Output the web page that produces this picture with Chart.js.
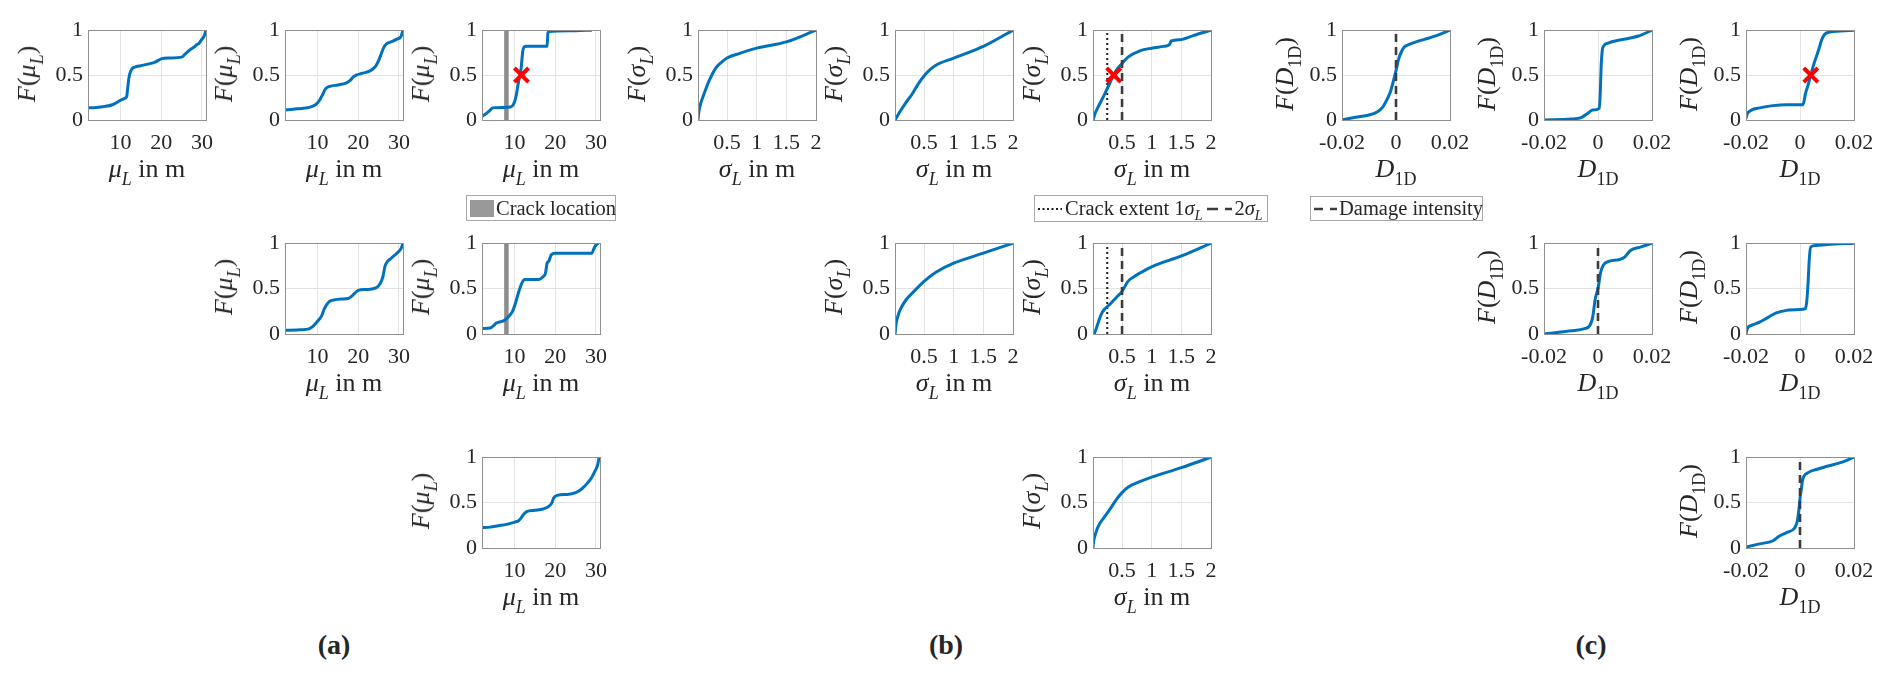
<!DOCTYPE html>
<html>
<head>
<meta charset="utf-8">
<script src="https://cdn.jsdelivr.net/npm/chart.js@4.4.1/dist/chart.umd.min.js"></script>
<style>
  html, body { margin: 0; padding: 0; background: #fff; }
  #stage { position: relative; width: 1892px; height: 676px; overflow: hidden; font-family: "Liberation Serif", serif; color: #262626; }
  #stage canvas { position: absolute; }
  .xt, .yt { position: absolute; font-size: 26px; line-height: 26px; white-space: nowrap; }
  .xt { transform: translateX(-50%); }
  .yt { transform: translate(-50%, -50%) rotate(-90deg); }
  .xt sub, .yt sub { font-size: 18px; vertical-align: -8px; line-height: 0; }
  .leg { position: absolute; box-sizing: border-box; border: 1px solid #a8a8a8; background: #fff;
         font-size: 20.5px; display: flex; align-items: center; white-space: nowrap; }
  .leg sub { font-size: 14px; vertical-align: -5px; line-height: 0; }
  .panel { position: absolute; font-weight: bold; font-size: 28px; transform: translate(-50%, -50%); }
</style>
</head>
<body>
<div id="stage"></div>
<script>
// ---- data ----
// (a) F(mu_L)
const a1X = [2, 4, 6, 8, 10, 11, 11.5, 11.7, 12, 12.3, 12.8, 13.5, 15, 17, 18.5, 20, 22, 25, 25.8, 27, 28, 28.8, 29.2, 30, 30.5, 31];
const a1Y = [0.135, 0.14, 0.15, 0.17, 0.22, 0.24, 0.26, 0.33, 0.45, 0.52, 0.57, 0.59, 0.605, 0.625, 0.645, 0.68, 0.69, 0.70, 0.73, 0.78, 0.81, 0.84, 0.85, 0.90, 0.93, 1.0];
const a2X = [2, 5, 8, 9.5, 10.5, 11.2, 12, 13, 15, 17, 18, 18.8, 19.5, 21, 23, 24.3, 25, 25.6, 26.2, 27, 28, 29.5, 30.5, 31];
const a2Y = [0.11, 0.125, 0.14, 0.17, 0.22, 0.28, 0.35, 0.375, 0.39, 0.41, 0.44, 0.48, 0.50, 0.52, 0.55, 0.60, 0.66, 0.73, 0.80, 0.85, 0.87, 0.90, 0.93, 1.0];
const a3X = [2, 3, 4, 4.6, 7, 9, 9.8, 10.4, 10.8, 11.2, 11.6, 12, 12.3, 13, 18, 18.2, 18.5, 25, 29];
const a3Y = [0.04, 0.07, 0.11, 0.135, 0.14, 0.145, 0.18, 0.27, 0.38, 0.48, 0.57, 0.76, 0.81, 0.82, 0.82, 0.97, 0.985, 0.995, 1.0];
const a4X = [2, 5, 7, 8, 9, 10, 11, 11.6, 12.2, 13, 14, 16, 17.5, 18.5, 20, 22, 24.5, 25.3, 26, 26.6, 27.2, 28, 29, 30, 30.5, 31];
const a4Y = [0.04, 0.045, 0.05, 0.06, 0.09, 0.14, 0.2, 0.27, 0.32, 0.36, 0.375, 0.385, 0.39, 0.42, 0.48, 0.49, 0.51, 0.55, 0.62, 0.75, 0.80, 0.83, 0.87, 0.91, 0.94, 1.0];
const a5X = [2, 4, 4.8, 5.5, 6.5, 7.5, 8.5, 9.5, 10.3, 11, 11.8, 12.5, 16, 17, 17.6, 18, 18.4, 19, 20, 29, 29.5, 30, 30.6];
const a5Y = [0.06, 0.065, 0.09, 0.12, 0.135, 0.15, 0.19, 0.25, 0.35, 0.46, 0.56, 0.60, 0.60, 0.63, 0.67, 0.78, 0.80, 0.87, 0.89, 0.89, 0.94, 0.98, 1.0];
const a6X = [2, 4, 6, 8, 10, 11, 11.6, 12.2, 13, 15, 17, 18.5, 19.2, 19.6, 20.5, 23, 25, 26.5, 28, 29, 29.8, 30.4, 30.8];
const a6Y = [0.225, 0.23, 0.245, 0.26, 0.285, 0.30, 0.33, 0.37, 0.40, 0.415, 0.43, 0.46, 0.50, 0.55, 0.58, 0.59, 0.61, 0.65, 0.72, 0.78, 0.85, 0.91, 1.0];

// (b) F(sigma_L)
const b1X = [0.01, 0.02, 0.05, 0.1, 0.15, 0.2, 0.3, 0.4, 0.5, 0.7, 1.0, 1.5, 2.0];
const b1Y = [0, 0.07, 0.17, 0.27, 0.36, 0.44, 0.57, 0.64, 0.69, 0.74, 0.80, 0.87, 1.0];
const b2X = [0.01, 0.1, 0.2, 0.3, 0.4, 0.5, 0.6, 0.7, 1.0, 1.5, 2.0];
const b2Y = [0, 0.1, 0.2, 0.29, 0.4, 0.49, 0.56, 0.61, 0.69, 0.82, 1.0];
const b3X = [0.01, 0.05, 0.1, 0.2, 0.3, 0.4, 0.5, 0.6, 0.8, 1.0, 1.2, 1.3, 1.33, 1.5, 1.7, 2.0];
const b3Y = [0, 0.08, 0.15, 0.28, 0.42, 0.55, 0.63, 0.70, 0.77, 0.80, 0.82, 0.84, 0.88, 0.895, 0.94, 1.0];
const b4X = [0.01, 0.03, 0.06, 0.1, 0.2, 0.3, 0.5, 0.7, 1.0, 1.5, 2.0];
const b4Y = [0, 0.12, 0.2, 0.27, 0.38, 0.45, 0.58, 0.68, 0.78, 0.89, 1.0];
const b5X = [0.03, 0.06, 0.1, 0.15, 0.2, 0.3, 0.4, 0.5, 0.6, 0.7, 0.8, 1.0, 1.5, 2.0];
const b5Y = [0, 0.05, 0.13, 0.22, 0.27, 0.33, 0.40, 0.47, 0.58, 0.63, 0.67, 0.74, 0.86, 1.0];
const b6X = [0.01, 0.02, 0.05, 0.1, 0.2, 0.3, 0.4, 0.5, 0.6, 0.8, 1.0, 1.5, 2.0];
const b6Y = [0, 0.07, 0.15, 0.24, 0.34, 0.43, 0.53, 0.61, 0.67, 0.73, 0.78, 0.885, 1.0];

// (c) F(D_1D)
const c1X = [-0.02, -0.015, -0.01, -0.007, -0.005, -0.003, -0.002, -0.001, 0, 0.001, 0.002, 0.003, 0.004, 0.008, 0.012, 0.016, 0.02];
const c1Y = [0, 0.03, 0.055, 0.09, 0.14, 0.25, 0.32, 0.43, 0.55, 0.68, 0.76, 0.81, 0.83, 0.875, 0.91, 0.95, 1.0];
const c2X = [-0.02, -0.01, -0.006, -0.004, -0.002, 0.0005, 0.0009, 0.0012, 0.0016, 0.002, 0.004, 0.008, 0.015, 0.02];
const c2Y = [0, 0.01, 0.03, 0.07, 0.11, 0.13, 0.35, 0.62, 0.78, 0.82, 0.86, 0.89, 0.935, 1.0];
const c3X = [-0.02, -0.0195, -0.018, -0.015, -0.01, -0.005, 0.001, 0.0015, 0.002, 0.003, 0.004, 0.005, 0.006, 0.007, 0.008, 0.009, 0.011, 0.015, 0.02];
const c3Y = [0.02, 0.07, 0.11, 0.135, 0.16, 0.17, 0.17, 0.21, 0.29, 0.39, 0.50, 0.61, 0.70, 0.79, 0.89, 0.95, 0.98, 0.99, 1.0];
const c4X = [-0.02, -0.01, -0.005, -0.003, -0.002, -0.001, 0, 0.001, 0.002, 0.004, 0.008, 0.01, 0.012, 0.016, 0.02];
const c4Y = [0, 0.035, 0.06, 0.095, 0.18, 0.39, 0.50, 0.68, 0.76, 0.80, 0.82, 0.85, 0.92, 0.96, 1.0];
const c5X = [-0.02, -0.0195, -0.018, -0.015, -0.012, -0.009, -0.005, 0, 0.002, 0.0025, 0.003, 0.0035, 0.004, 0.006, 0.01, 0.02];
const c5Y = [0, 0.06, 0.095, 0.13, 0.18, 0.23, 0.26, 0.27, 0.28, 0.36, 0.57, 0.85, 0.96, 0.975, 0.985, 1.0];
const c6X = [-0.02, -0.015, -0.01, -0.008, -0.005, -0.002, -0.001, -0.0005, 0, 0.0005, 0.001, 0.003, 0.006, 0.01, 0.015, 0.02];
const c6Y = [0.01, 0.045, 0.08, 0.125, 0.17, 0.22, 0.295, 0.40, 0.545, 0.65, 0.755, 0.83, 0.865, 0.90, 0.94, 1.0];

// tick labels and reference lines
const yTicks = [0, 0.5, 1];
const aTicks = [10, 20, 30];
const bTicks = [0.5, 1, 1.5, 2];
const cTicks = [-0.02, 0, 0.02];
const crackLoc = 8;           // crack location, mu_L
const crackExt1 = 0.25;       // 1 sigma_L
const crackExt2 = 0.5;        // 2 sigma_L
const damageInt = 0;          // damage intensity
const aCross = [11.7, 0.5];
const bCross = [0.36, 0.5];
const cCross = [0.004, 0.5];

// ---- layout ----
const BLUE = '#0072BD', GRID = '#e3e3e3', BOX = '#8f8f8f', TXT = '#262626';
const PAD_L = 65, PAD_R = 30, PAD_T = 15, PAD_B = 40, YAX_W = 48, XAX_H = 32;
const rowTops = [27, 240, 454];
const rowH = [93, 94, 94];
const kinds = {
  a: { w: 118, min: 2, max: 31, ticks: aTicks, yoff: 61,
       xt: '<i>μ</i><sub><i>L</i></sub> in m', yt: '<i>F</i>(<i>μ</i><sub><i>L</i></sub>)' },
  b: { w: 118, min: 0.01, max: 2, ticks: bTicks, yoff: 61,
       xt: '<i>σ</i><sub><i>L</i></sub> in m', yt: '<i>F</i>(<i>σ</i><sub><i>L</i></sub>)' },
  c: { w: 108, min: -0.02, max: 0.02, ticks: cTicks, yoff: 57,
       xt: '<i>D</i><sub>1D</sub>', yt: '<i>F</i>(<i>D</i><sub>1D</sub>)' }
};

Chart.defaults.font.family = '"Liberation Serif", serif';
Chart.defaults.color = TXT;

const boxFrame = {
  id: 'boxFrame',
  afterDatasetsDraw(chart) {
    const { ctx, chartArea: a } = chart;
    ctx.save();
    ctx.strokeStyle = BOX;
    ctx.lineWidth = 1;
    ctx.strokeRect(Math.round(a.left) + 0.5, Math.round(a.top) + 0.5,
                   Math.round(a.right - a.left), Math.round(a.bottom - a.top));
    ctx.restore();
  }
};

const stage = document.getElementById('stage');

function pts(xs, ys) { return xs.map((x, i) => ({ x: x, y: ys[i] })); }

function vline(x, style) {
  const base = { data: [{ x: x, y: 0 }, { x: x, y: 1 }], showLine: true, pointRadius: 0, order: 2 };
  if (style === 'crack') return Object.assign(base, { borderColor: '#8c8c8c', borderWidth: 4.5 });
  if (style === 'dot') return Object.assign(base, { borderColor: '#1e1e1e', borderWidth: 2, borderDash: [2, 3] });
  return Object.assign(base, { borderColor: '#3c3c3c', borderWidth: 2.6, borderDash: [8, 5], order: 0 });
}

function cross(p) {
  return { data: [{ x: p[0], y: p[1] }], pointStyle: 'crossRot', pointRadius: 10,
           borderColor: '#ff0000', borderWidth: 4, order: -1 };
}

function addPlot(kind, left, row, xs, ys, extras) {
  const k = kinds[kind];
  const top = rowTops[row];
  const h = rowH[row];
  const cv = document.createElement('canvas');
  cv.width = k.w + PAD_L + PAD_R;
  cv.height = h + PAD_T + PAD_B;
  cv.style.left = (left - PAD_L) + 'px';
  cv.style.top = (top - PAD_T) + 'px';
  stage.appendChild(cv);

  const datasets = (extras || []).slice();
  datasets.push({ data: pts(xs, ys), showLine: true, pointRadius: 0, borderColor: BLUE,
                  borderWidth: 3, cubicInterpolationMode: 'monotone', order: 1 });

  new Chart(cv, {
    type: 'scatter',
    data: { datasets: datasets },
    options: {
      responsive: false, animation: false, devicePixelRatio: 1,
      layout: { padding: { left: PAD_L - YAX_W, right: PAD_R, top: PAD_T, bottom: PAD_B - XAX_H } },
      plugins: { legend: { display: false }, tooltip: { enabled: false } },
      scales: {
        x: {
          type: 'linear', min: k.min, max: k.max,
          afterBuildTicks: s => { s.ticks = k.ticks.map(v => ({ value: v })); },
          afterFit: s => { s.height = XAX_H; },
          grid: { color: GRID, drawTicks: false },
          border: { display: false },
          ticks: { padding: 10, color: TXT, font: { size: 22 }, maxRotation: 0, autoSkip: false,
                   callback: v => String(v) }
        },
        y: {
          type: 'linear', min: 0, max: 1,
          afterBuildTicks: s => { s.ticks = yTicks.map(v => ({ value: v })); },
          afterFit: s => { s.width = YAX_W; },
          grid: { color: GRID, drawTicks: false },
          border: { display: false },
          ticks: { padding: 5, color: TXT, font: { size: 22 }, callback: v => String(v) }
        }
      }
    },
    plugins: [boxFrame]
  });

  const xt = document.createElement('div');
  xt.className = 'xt';
  xt.innerHTML = k.xt;
  xt.style.left = (left + k.w / 2) + 'px';
  xt.style.top = (top + h + 36) + 'px';
  stage.appendChild(xt);

  const yt = document.createElement('div');
  yt.className = 'yt';
  yt.innerHTML = k.yt;
  yt.style.left = (left - k.yoff) + 'px';
  yt.style.top = (top + h / 2) + 'px';
  stage.appendChild(yt);
}

function sample(w, dash, color, sw) {
  return '<svg width="' + w + '" height="12" style="flex:none"><line x1="0" y1="6" x2="' + w +
         '" y2="6" stroke="' + color + '" stroke-width="' + sw + '" stroke-dasharray="' + dash + '"/></svg>';
}
function addLegend(left, top, w, h, html) {
  const d = document.createElement('div');
  d.className = 'leg';
  d.style.left = left + 'px'; d.style.top = top + 'px';
  d.style.width = w + 'px'; d.style.height = h + 'px';
  d.innerHTML = html;
  stage.appendChild(d);
}

function build() {
  // (a)
  addPlot('a', 88, 0, a1X, a1Y);
  addPlot('a', 285, 0, a2X, a2Y);
  addPlot('a', 482, 0, a3X, a3Y, [vline(crackLoc, 'crack'), cross(aCross)]);
  addPlot('a', 285, 1, a4X, a4Y);
  addPlot('a', 482, 1, a5X, a5Y, [vline(crackLoc, 'crack')]);
  addPlot('a', 482, 2, a6X, a6Y);
  // (b)
  addPlot('b', 698, 0, b1X, b1Y);
  addPlot('b', 895, 0, b2X, b2Y);
  addPlot('b', 1093, 0, b3X, b3Y, [vline(crackExt1, 'dot'), vline(crackExt2, 'dash'), cross(bCross)]);
  addPlot('b', 895, 1, b4X, b4Y);
  addPlot('b', 1093, 1, b5X, b5Y, [vline(crackExt1, 'dot'), vline(crackExt2, 'dash')]);
  addPlot('b', 1093, 2, b6X, b6Y);
  // (c)
  addPlot('c', 1342, 0, c1X, c1Y, [vline(damageInt, 'dash')]);
  addPlot('c', 1544, 0, c2X, c2Y);
  addPlot('c', 1746, 0, c3X, c3Y, [cross(cCross)]);
  addPlot('c', 1544, 1, c4X, c4Y, [vline(damageInt, 'dash')]);
  addPlot('c', 1746, 1, c5X, c5Y);
  addPlot('c', 1746, 2, c6X, c6Y, [vline(damageInt, 'dash')]);

  addLegend(466, 195, 150, 26,
    '<span style="display:inline-block;width:24px;height:17px;background:#999;margin:0 2px 0 3px;flex:none"></span>Crack location');
  addLegend(1034, 195, 234, 27,
    '<span style="margin-left:3px"></span>' + sample(24, '2,2.5', '#1e1e1e', 2) +
    '<span style="margin-left:3px">Crack extent 1<i>σ</i><sub><i>L</i></sub></span>' +
    '<span style="margin-left:5px"></span>' + sample(25, '11,7', '#3c3c3c', 2.6) +
    '<span style="margin-left:2px">2<i>σ</i><sub><i>L</i></sub></span>');
  addLegend(1310, 196, 173, 25,
    '<span style="margin-left:3px"></span>' + sample(23, '9,7', '#3c3c3c', 2.6) +
    '<span style="margin-left:2px">Damage intensity</span>');

  [['(a)', 334], ['(b)', 946], ['(c)', 1591]].forEach(function (p) {
    const d = document.createElement('div');
    d.className = 'panel';
    d.textContent = p[0];
    d.style.left = p[1] + 'px';
    d.style.top = '645px';
    stage.appendChild(d);
  });
}

// make sure the serif face is ready before the canvases draw their ticks
Promise.all([
  document.fonts.load('22px "Liberation Serif"'),
  document.fonts.load('italic 26px "Liberation Serif"'),
  document.fonts.load('bold 28px "Liberation Serif"')
]).then(build, build);
</script>
</body>
</html>
